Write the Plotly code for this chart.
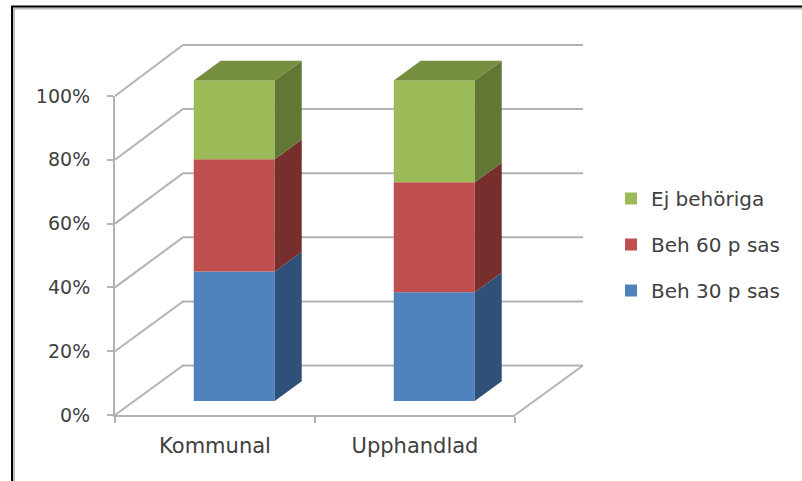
import plotly.graph_objects as go

categories = ["Kommunal", "Upphandlad"]
series_names = ["Beh 30 p sas", "Beh 60 p sas", "Ej behöriga"]
legend_ranks = [3, 2, 1]
beh30 = [40.4, 33.9]
beh60 = [35.0, 34.3]
ej = [24.6, 31.8]
y_ticks = [0, 20, 40, 60, 80, 100]
y_labels = ["0%", "20%", "40%", "60%", "80%", "100%"]

front = ["#4F81BD", "#C0504D", "#9BBB59"]
side = ["#2F5078", "#772F2D", "#637735"]
top_col = "#768E3F"
grid = "#B2B2B2"
txt = "#404040"
FONT = "DejaVu Sans"

W, H = 802, 481
X0_PX, Y0_PX = 115, 415           # pixel position of the front-plane origin
PX_X, PX_Y = 200.0, 3.19          # px per x-unit and per percent on the front plane
DX, DY = 68 / PX_X, 49.5 / PX_Y   # oblique offset of the full chart depth
SCALE = 1.005
D0, D1 = 0.283, 0.68              # bar depth slab
BAR_W = 81 / PX_X
scene_x = [-X0_PX / PX_X, (W - X0_PX) / PX_X]
scene_y = [(Y0_PX - H) / PX_Y, Y0_PX / PX_Y]


def proj(x, v, d):
    s = SCALE if d > 0 else 1.0
    return x + d * DX, v * s + d * DY


fig = go.Figure()

# invisible carrier for the real axes of the front plane
fig.add_trace(go.Scatter(x=[0.5, 1.5], y=[0, 0], mode="markers", marker=dict(opacity=0),
                         showlegend=False, hoverinfo="skip"))

# walls and floor
wx, wy = [], []
for v in y_ticks:
    for x, d in [(0, 0), (0, 1), (2, 1)]:
        a, b = proj(x, v, d)
        wx.append(a)
        wy.append(b)
    wx.append(None)
    wy.append(None)
for d in (0, 1):
    a, b = proj(2, 0, d)
    wx.append(a)
    wy.append(b)
fig.add_trace(go.Scatter(x=wx, y=wy, mode="lines", line=dict(color=grid, width=2),
                         showlegend=False, hoverinfo="skip", xaxis="x2", yaxis="y2"))


def face(pts, color):
    fig.add_trace(go.Scatter(x=[p[0] for p in pts] + [pts[0][0]], y=[p[1] for p in pts] + [pts[0][1]],
                             mode="lines", fill="toself", fillcolor=color, line=dict(width=0, color=color),
                             showlegend=False, hoverinfo="skip", xaxis="x3", yaxis="y3"))


stacks = [beh30, beh60, ej]
base = [0.0, 0.0]
for k, vals in enumerate(stacks):
    fx, fb, fy = [], [], []
    for i, val in enumerate(vals):
        xc = i + 0.5
        l = xc - BAR_W / 2
        r = xc + BAR_W / 2
        lo, hi = base[i], base[i] + val
        x_bar, y_lo = proj(xc, lo, D0)
        _, y_hi = proj(xc, hi, D0)
        fx.append(x_bar)
        fb.append(y_lo)
        fy.append(y_hi - y_lo)
        face([proj(r, lo, D0), proj(r, lo, D1), proj(r, hi, D1), proj(r, hi, D0)], side[k])
        if k == len(stacks) - 1:
            face([proj(l, hi, D0), proj(l, hi, D1), proj(r, hi, D1), proj(r, hi, D0)], top_col)
        base[i] = hi
    fig.add_trace(go.Bar(x=fx, y=fy, base=fb, width=BAR_W, name=series_names[k],
                         marker=dict(color=front[k], line=dict(width=0)),
                         xaxis="x3", yaxis="y3", legendgroup=series_names[k], legendrank=legend_ranks[k],
                         hoverinfo="skip"))

hidden = dict(visible=False, automargin=False, domain=[0, 1])
fig.update_layout(
    width=W, height=H, autosize=False,
    margin=dict(l=0, r=0, t=0, b=0, pad=0),
    paper_bgcolor="white", plot_bgcolor="rgba(0,0,0,0)",
    barmode="overlay",
    font=dict(family=FONT, size=20, color=txt),
    xaxis=dict(domain=[X0_PX / W, (X0_PX + 2 * PX_X) / W], range=[0, 2], automargin=False,
               tickmode="array", tickvals=[0.5, 1.5], ticktext=categories,
               showgrid=False, zeroline=False, showline=True, linecolor=grid, linewidth=2, ticks="", ticklabelstandoff=11,
               minor=dict(tickmode="array", tickvals=[0, 1, 2], ticks="outside", ticklen=6, tickcolor=grid, tickwidth=1.5),
               tickfont=dict(family=FONT, size=21, color=txt)),
    yaxis=dict(domain=[(H - Y0_PX) / H, (H - Y0_PX + 100 * PX_Y) / H], range=[0, 100], automargin=False,
               tickmode="array", tickvals=y_ticks, ticktext=y_labels,
               showgrid=False, zeroline=False, showline=True, linecolor=grid, linewidth=2, ticks="outside", ticklen=6,
               ticklabelstandoff=13,
               tickcolor=grid, tickwidth=1.5, tickfont=dict(family=FONT, size=19, color=txt)),
    xaxis2=dict(range=scene_x, anchor="y2", **hidden),
    yaxis2=dict(range=scene_y, anchor="x2", **hidden),
    xaxis3=dict(range=scene_x, anchor="y3", overlaying="x2", visible=False, automargin=False),
    yaxis3=dict(range=scene_y, anchor="x3", overlaying="y2", visible=False, automargin=False),
    legend=dict(x=611 / W, y=1 - 179 / H, xanchor="left", yanchor="top", traceorder="grouped", tracegroupgap=17,
                bgcolor="rgba(0,0,0,0)", font=dict(family=FONT, size=20, color=txt)),
    shapes=[
        dict(type="rect", xref="paper", yref="paper", x0=14 / W, x1=1.1, y0=-0.1, y1=1 - 8.5 / H,
             line=dict(color="#BDBDBD", width=2), fillcolor="rgba(0,0,0,0)", layer="below"),
        dict(type="rect", xref="paper", yref="paper", x0=12 / W, x1=1.1, y0=-0.1, y1=1 - 6.5 / H,
             line=dict(color="#000000", width=2), fillcolor="rgba(0,0,0,0)", layer="below"),
    ],
)

fig.write_html("out.html", config=dict(displayModeBar=False),
               post_script="document.body.style.margin='0';")
